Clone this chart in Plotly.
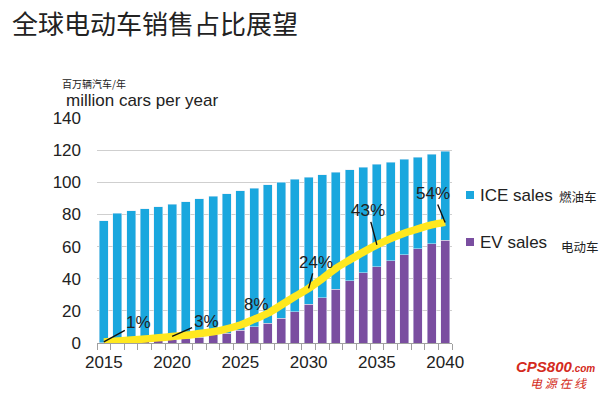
import plotly.graph_objects as go

years = list(range(2015, 2041))
ev_sales = [0.3, 0.5, 0.8, 1.0, 1.6, 2.0, 2.7, 3.7, 5.0, 6.2, 7.9, 10.0, 12.4, 15.5, 19.5,
            24.0, 28.2, 33.4, 38.6, 43.6, 47.5, 51.3, 55.0, 58.8, 61.7, 64.0]
ice_sales = [75.9, 80.1, 81.4, 82.5, 83.3, 84.4, 85.3, 86.0, 86.4, 86.8, 86.8, 86.4, 86.0,
             84.6, 82.5, 79.2, 76.5, 72.9, 69.2, 65.9, 63.6, 61.3, 59.2, 56.9, 55.7, 55.2]
ev_share = [0.5, 0.9, 1.3, 1.8, 2.3, 2.9, 3.4, 4.2, 5.0, 6.3, 8.0, 10.5, 13.2, 16.9, 20.7,
            24.3, 28.6, 33.2, 36.9, 40.4, 43.6, 46.4, 48.8, 50.7, 52.5, 53.6]
label_years = [2015, 2020, 2025, 2030, 2035, 2040]
label_text = ["1%", "3%", "8%", "24%", "43%", "54%"]

W, H = 615, 393
L, R, T, B = 97, 163, 118, 50
PW, PH = W - L - R, H - T - B

def px(x):
    return (x - L) / PW

def py(y):
    return (H - B - y) / PH

ICE_C = "#1AA7DE"
EV_C = "#7A4EA0"
TXT = "#222222"
LAT = "Liberation Sans, Arial, sans-serif"
CJK = "Noto Sans CJK SC, sans-serif"

fig = go.Figure()
fig.add_bar(x=years, y=ev_sales, marker_color=EV_C, name="EV sales", showlegend=False)
fig.add_bar(x=years, y=ice_sales, marker_color=ICE_C, name="ICE sales", showlegend=False)
fig.add_scatter(x=years, y=ev_share, yaxis="y2", mode="lines",
                line=dict(color="#FFE81F", width=7.5, shape="spline"), showlegend=False)

# percentage labels (offsets in px from the line point)
offsets = {"1%": (35, -19, True), "3%": (34, -15, True), "8%": (16, 21, False),
           "24%": (7, -26, True), "43%": (-9, -34, True), "54%": (-12, -29, True)}
for yr, txt in zip(label_years, label_text):
    val = ev_share[years.index(yr)]
    ax, ay, arrow = offsets[txt]
    if arrow:
        fig.add_annotation(x=yr, y=val, yref="y2", text=txt, showarrow=True,
                           ax=ax, ay=ay, arrowhead=0, arrowwidth=1.4, arrowcolor="#111",
                           standoff=0, font=dict(family=LAT, size=17, color=TXT))
    else:
        fig.add_annotation(x=yr, y=val, yref="y2", text=txt, showarrow=False,
                           xshift=ax, yshift=ay, font=dict(family=LAT, size=17, color=TXT))

# legend
for (x0, y0, col) in [(466, 191, ICE_C), (466, 238, EV_C)]:
    fig.add_shape(type="rect", xref="paper", yref="paper", x0=px(x0), x1=px(x0 + 8),
                  y0=py(y0 + 8), y1=py(y0), fillcolor=col, line_width=0)
leg = [("ICE sales", 478, 195, LAT, 17), ("燃油车", 557, 196, CJK, 12.5),
       ("EV sales", 478, 242, LAT, 17), ("电动车", 559, 246, CJK, 12.5)]
for t, x, y, f, s in leg:
    fig.add_annotation(xref="paper", yref="paper", x=px(x), y=py(y), text=t, showarrow=False,
                       xanchor="left", yanchor="middle", font=dict(family=f, size=s, color=TXT))

# axis unit labels
fig.add_annotation(xref="paper", yref="paper", x=px(60), y=py(83), text="百万辆汽车/年",
                   showarrow=False, xanchor="left", yanchor="middle",
                   font=dict(family=CJK, size=10, color=TXT))
fig.add_annotation(xref="paper", yref="paper", x=px(64), y=py(101), text="million cars per year",
                   showarrow=False, xanchor="left", yanchor="middle",
                   font=dict(family=LAT, size=17, color=TXT))

# watermark
fig.add_annotation(xref="paper", yref="paper", x=px(514), y=py(366),
                   text="<b><i>CPS800<span style='font-size:10px'>.com</span></i></b>",
                   showarrow=False, xanchor="left", yanchor="middle",
                   font=dict(family=LAT, size=15, color="#D42A20"))
fig.add_annotation(xref="paper", yref="paper", x=px(528), y=py(382),
                   text="<i>电 源 在 线</i>", showarrow=False, xanchor="left", yanchor="middle",
                   font=dict(family=CJK, size=12, color="#D42A20"))

fig.update_layout(
    width=W, height=H, margin=dict(l=L, r=R, t=T, b=B),
    paper_bgcolor="white", plot_bgcolor="white",
    barmode="stack", bargap=0.34,
    title=dict(text="全球电动车销售占比展望", x=12 / W, xref="container", xanchor="left",
               y=1 - 25 / H, yref="container", yanchor="middle",
               font=dict(family=CJK, size=26, color=TXT)),
    xaxis=dict(range=[2014.5, 2040.5], tickvals=label_years, ticks="", showgrid=False,
               showline=True, linecolor="#A0A0A0", linewidth=1,
               tickfont=dict(family=LAT, size=17, color=TXT), ticklabelstandoff=4,
               minor=dict(tick0=2014.5, dtick=1, ticks="outside", ticklen=6,
                          tickcolor="#A0A0A0", showgrid=False)),
    yaxis=dict(range=[0, 140], dtick=20, showgrid=True, gridcolor="#CFCFCF", gridwidth=1,
               zeroline=False, showline=False, ticks="", ticklabelstandoff=15,
               tickfont=dict(family=LAT, size=17, color=TXT)),
    yaxis2=dict(range=[0, 100], overlaying="y", side="right", visible=False),
)

fig.write_html("out.html", config={"displayModeBar": False},
               post_script="document.body.style.margin='0';document.body.style.overflow='hidden';")
